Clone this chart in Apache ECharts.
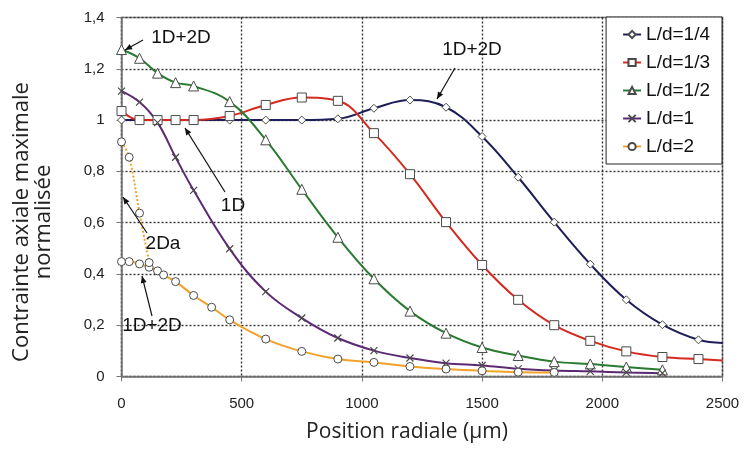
<!DOCTYPE html>
<html>
<head>
<meta charset="utf-8">
<script src="https://cdn.jsdelivr.net/npm/echarts@6/dist/echarts.min.js"></script>
<style>
  html, body { margin: 0; padding: 0; background: #fff; }
  #main { width: 751px; height: 450px; }
</style>
</head>
<body>
<div id="main"></div>
<script>
// valeurs (position radiale en µm, contrainte normalisée)
var xTicks = [0, 500, 1000, 1500, 2000, 2500];
var yTicks = [0, 0.2, 0.4, 0.6, 0.8, 1, 1.2, 1.4];

var names = ['L/d=1/4', 'L/d=1/3', 'L/d=1/2', 'L/d=1', 'L/d=2'];

var xBlue = [0, 150, 300, 450, 600, 750, 900, 1050, 1200, 1350, 1500, 1650, 1800, 1950, 2100, 2250, 2400, 2500];
var yBlue = [1.0, 1.0, 1.0, 1.0, 1.0, 1.0, 1.005, 1.046, 1.078, 1.05, 0.936, 0.777, 0.602, 0.438, 0.299, 0.202, 0.143, 0.131];

var xRed = [0, 75, 150, 225, 300, 450, 600, 750, 900, 1050, 1200, 1350, 1500, 1650, 1800, 1950, 2100, 2250, 2400, 2500];
var yRed = [1.035, 1.0, 1.0, 1.0, 1.0, 1.016, 1.059, 1.088, 1.075, 0.949, 0.789, 0.602, 0.435, 0.299, 0.2, 0.139, 0.098, 0.076, 0.068, 0.062];

var xGreen = [0, 75, 150, 225, 300, 450, 600, 750, 900, 1050, 1200, 1350, 1500, 1650, 1800, 1950, 2100, 2250];
var yGreen = [1.275, 1.241, 1.183, 1.146, 1.133, 1.072, 0.923, 0.73, 0.543, 0.381, 0.255, 0.169, 0.113, 0.082, 0.058, 0.049, 0.037, 0.026];

var xPurple = [0, 75, 150, 225, 300, 450, 600, 750, 900, 1050, 1200, 1350, 1500, 1650, 1800, 1950, 2100, 2250];
var yPurple = [1.113, 1.07, 0.99, 0.855, 0.726, 0.498, 0.331, 0.228, 0.15, 0.101, 0.072, 0.052, 0.043, 0.03, 0.023, 0.02, 0.016, 0.013];

var xOrange = [0, 32, 75, 115, 150, 175, 225, 300, 375, 450, 600, 750, 900, 1050, 1200, 1350, 1500, 1650, 1800];
var yOrange = [0.448, 0.448, 0.439, 0.426, 0.412, 0.396, 0.37, 0.316, 0.27, 0.221, 0.146, 0.098, 0.068, 0.055, 0.039, 0.029, 0.022, 0.017, 0.016];

// courbe 2Da (pointillés)
var x2Da = [0, 32, 75, 115];
var y2Da = [0.915, 0.855, 0.637, 0.444];

// le dernier point à 2500 n'a pas de marqueur
function pts(xs, ys) {
  return xs.map(function (x, i) {
    var d = { value: [x, ys[i]] };
    if (x === 2500) d.symbol = 'none';
    return d;
  });
}

var crossPath = 'path://M0,0L10,10M10,0L0,10';
var mk = { color: '#fff', borderColor: '#4a4a4a', borderWidth: 1 };

function line(name, xs, ys, color, symbol, size, dashed) {
  return {
    name: name,
    type: 'line',
    data: pts(xs, ys),
    smooth: 0.4,
    symbol: symbol,
    symbolSize: size,
    showAllSymbol: true,
    lineStyle: { color: color, width: 2, type: dashed ? 'dotted' : 'solid' },
    itemStyle: symbol === crossPath ? { color: 'none', borderColor: '#4a4a4a', borderWidth: 1.2 } : mk,
    emphasis: { disabled: true },
    animation: false
  };
}

// annotations (pixels)
var notes = [
  { text: '1D+2D', x: 181, y: 38, from: [143, 40], to: [125, 50] },
  { text: '1D+2D', x: 472, y: 50, from: [455, 68], to: [437, 99] },
  { text: '1D', x: 233, y: 206, from: [225, 192], to: [185, 128] },
  { text: '2Da', x: 163, y: 244, from: [147, 233], to: [123, 197] },
  { text: '1D+2D', x: 152, y: 326, from: [152, 316], to: [142, 276] }
];

var graphics = [];
notes.forEach(function (n) {
  graphics.push({
    type: 'text', x: n.x, y: n.y, z: 100,
    style: { text: n.text, fill: '#111', font: '19px "Liberation Sans", Arial', textAlign: 'center', textVerticalAlign: 'middle' }
  });
  graphics.push({
    type: 'line', z: 100,
    shape: { x1: n.from[0], y1: n.from[1], x2: n.to[0], y2: n.to[1] },
    style: { stroke: '#111', lineWidth: 1.2 }
  });
  var dx = n.to[0] - n.from[0], dy = n.to[1] - n.from[1];
  var len = Math.sqrt(dx * dx + dy * dy);
  var ux = dx / len, uy = dy / len;
  var bx = n.to[0] - ux * 7, by = n.to[1] - uy * 7;
  graphics.push({
    type: 'polygon', z: 100,
    shape: { points: [[n.to[0], n.to[1]], [bx - uy * 3, by + ux * 3], [bx + uy * 3, by - ux * 3]] },
    style: { fill: '#111' }
  });
});

graphics.push({
  type: 'text', x: 33, y: 222, rotation: Math.PI / 2,
  style: {
    text: 'Contrainte axiale maximale\nnormalisée', fill: '#222',
    font: '22px "Open Sans"', textAlign: 'center', textVerticalAlign: 'middle', lineHeight: 22
  }
});
graphics.push({
  type: 'text', x: 407, y: 432,
  style: { text: 'Position radiale (µm)', fill: '#222', font: '21px "Open Sans"', textAlign: 'center', textVerticalAlign: 'middle' }
});

var myChart = echarts.init(document.getElementById('main'));

var option = {
  backgroundColor: '#fff',
  animation: false,
  grid: { left: 121.5, right: 28.5, top: 17.5, bottom: 73.5, show: true, borderColor: '#888', borderWidth: 1.5 },
  xAxis: {
    type: 'value', min: xTicks[0], max: xTicks[xTicks.length - 1], interval: 500,
    axisLine: { lineStyle: { color: '#777', width: 1.5 } },
    axisTick: { show: true, length: 5, lineStyle: { color: '#777' } },
    axisLabel: {
      margin: 20, color: '#222', fontSize: 15, fontFamily: 'Liberation Sans',
      formatter: function (v) { return String(v); }
    },
    splitLine: { lineStyle: { color: '#333', type: [2, 2], width: 1.4 } }
  },
  yAxis: {
    type: 'value', min: yTicks[0], max: yTicks[yTicks.length - 1], interval: 0.2,
    axisLine: { show: true, lineStyle: { color: '#777', width: 1.5 } },
    axisTick: { show: true, length: 5, lineStyle: { color: '#777' } },
    axisLabel: {
      margin: 17, color: '#222', fontSize: 15, fontFamily: 'Liberation Sans',
      formatter: function (v) { return String(Number(v.toFixed(1))).replace('.', ','); }
    },
    splitLine: { lineStyle: { color: '#333', type: [2, 2], width: 1.4 } }
  },
  legend: {
    data: names,
    orient: 'vertical',
    right: 29, top: 17,
    padding: [8, 12, 8, 16],
    itemWidth: 18, itemHeight: 9, itemGap: 9,
    backgroundColor: '#fff', borderColor: '#222', borderWidth: 1,
    textStyle: { fontSize: 19, color: '#111', fontFamily: 'Liberation Sans' }
  },
  series: [
    line(names[0], xBlue, yBlue, '#1e1e58', 'diamond', 8),
    line(names[1], xRed, yRed, '#d42a20', 'rect', 9),
    line(names[2], xGreen, yGreen, '#2a7a32', 'triangle', 10),
    line(names[3], xPurple, yPurple, '#5c2a72', crossPath, 7),
    line(names[4], xOrange, yOrange, '#f0a22a', 'circle', 8),
    line('2Da', x2Da, y2Da, '#f0a22a', 'circle', 8, true)
  ],
  graphic: graphics
};

myChart.setOption(option);
</script>
</body>
</html>
